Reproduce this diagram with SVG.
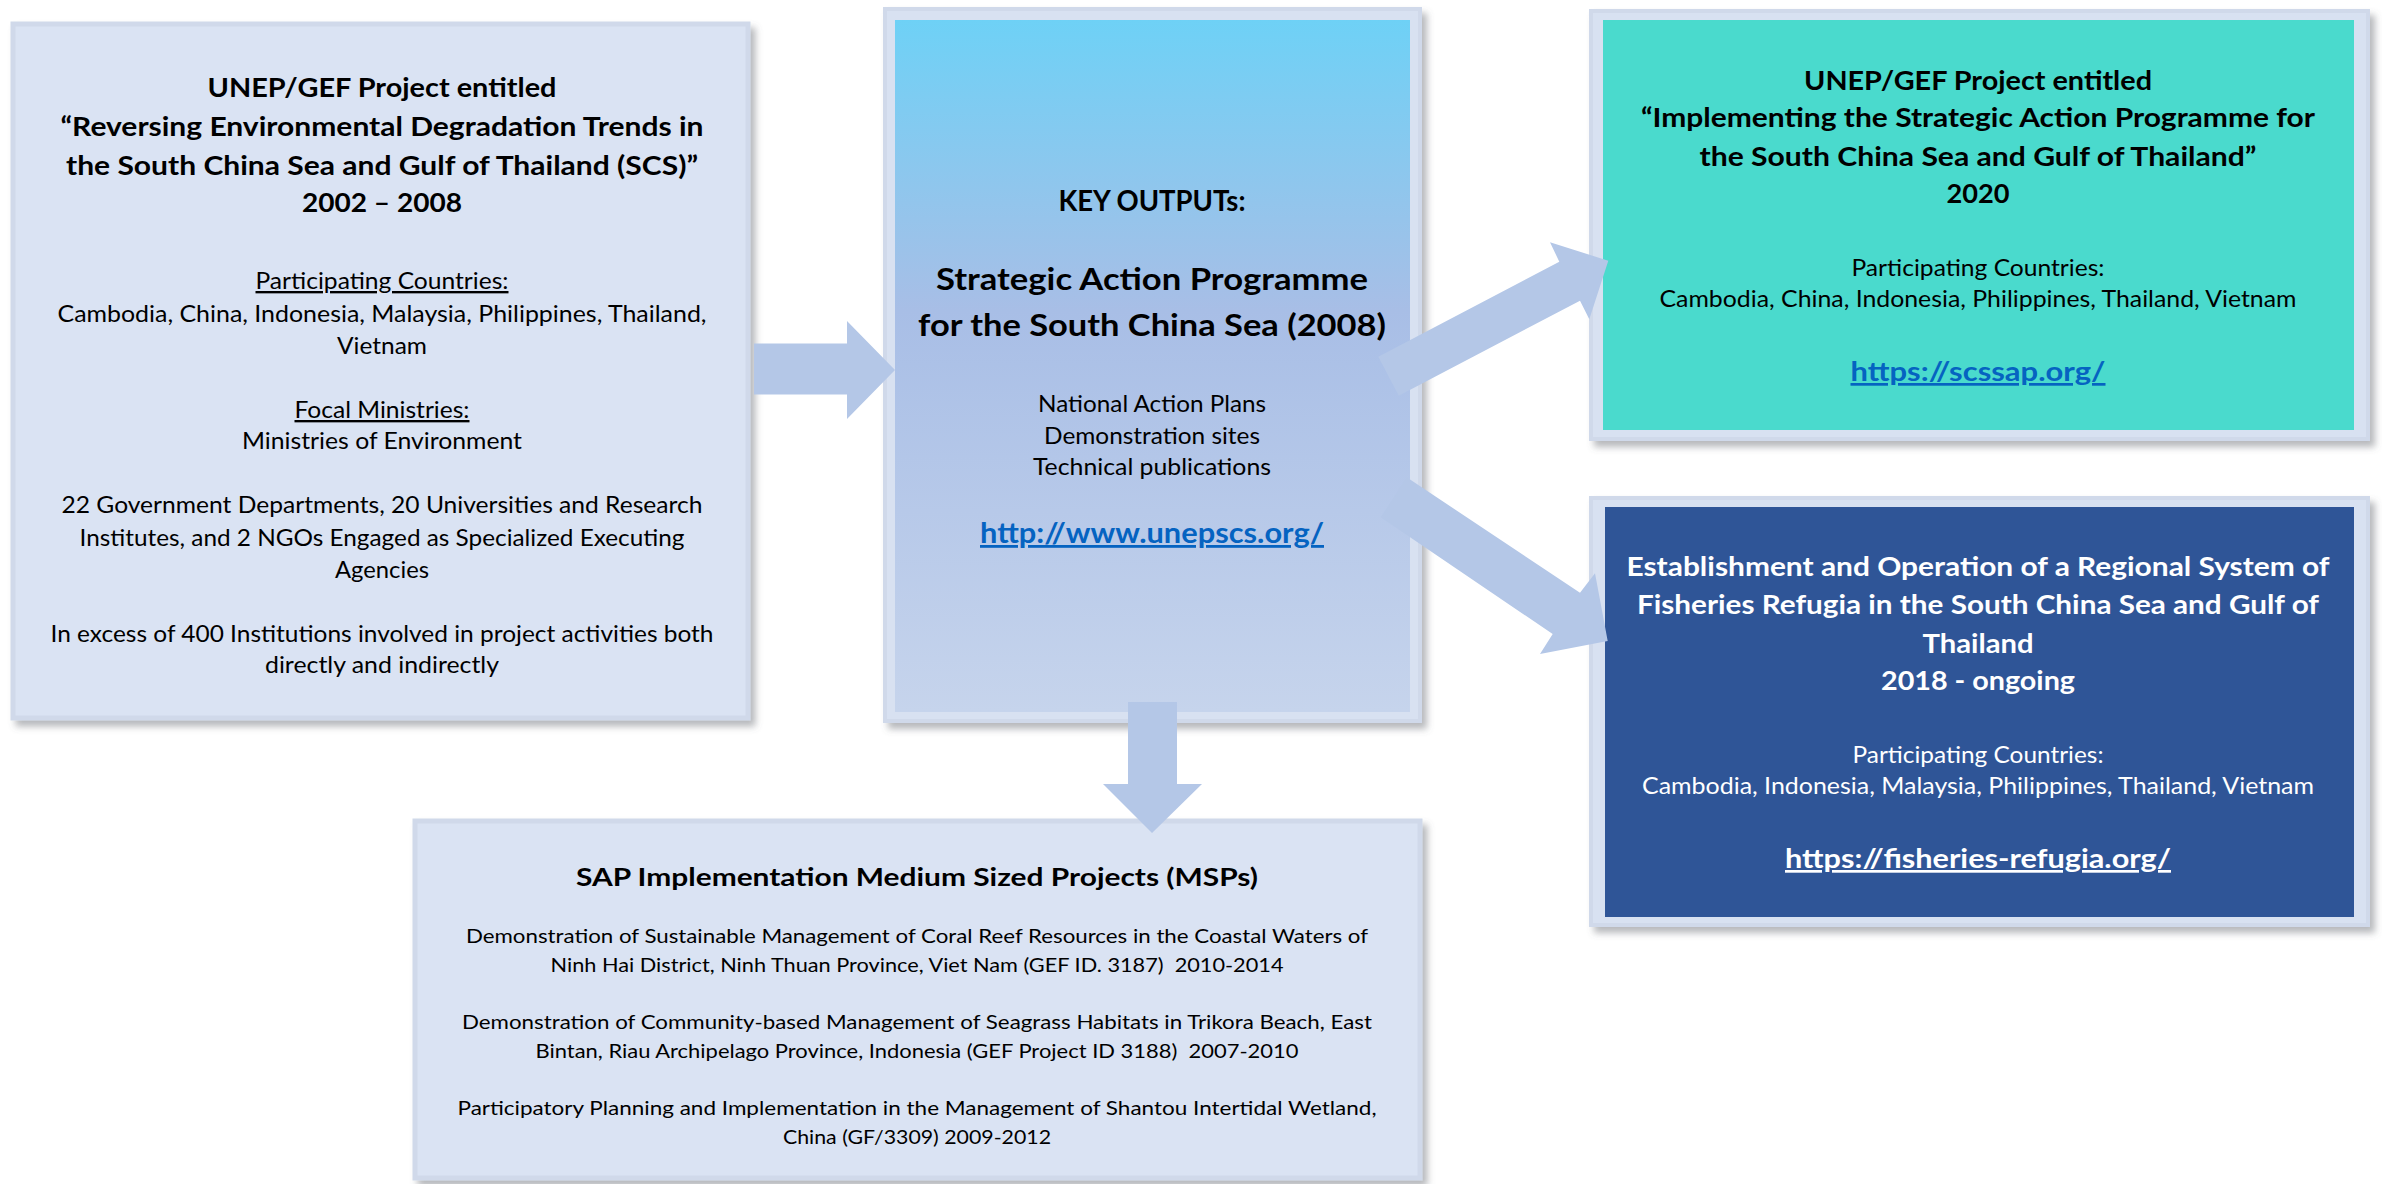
<svg xmlns="http://www.w3.org/2000/svg" width="2382" height="1184" viewBox="0 0 2382 1184">
<style>
text{font-family:Lato,"Liberation Sans",sans-serif;text-anchor:middle;fill:#000;white-space:pre}
.b{font-weight:700}
.tl{font-size:27.5px}
.r{font-size:23.5px}
.s{font-size:20px}
.w{fill:#fff}
.u{text-decoration:underline}
.lk{fill:#0563C1}
.frame{fill:#D8E1F1;stroke:#D0D9EA;stroke-width:4}
.arr{fill:#B4C7E7}
</style>
<defs>
<filter id="sh" x="-5%" y="-5%" width="112%" height="115%">
<feGaussianBlur in="SourceAlpha" stdDeviation="3.5" result="b"/>
<feOffset in="b" dx="5" dy="6" result="o"/>
<feFlood flood-color="#5f636b" flood-opacity="0.45"/>
<feComposite in2="o" operator="in" result="s"/>
<feMerge><feMergeNode in="s"/><feMergeNode in="SourceGraphic"/></feMerge>
</filter>
<linearGradient id="cg" x1="0" y1="0" x2="0" y2="1">
<stop offset="0" stop-color="#6ED1F6"/>
<stop offset="0.42" stop-color="#A8BEE6"/>
<stop offset="1" stop-color="#C6D4EC"/>
</linearGradient>
</defs>

<g id="node-scs-project">
<rect x="13" y="24" width="735" height="694" fill="#DAE3F3" stroke="#D0D9EA" stroke-width="5" filter="url(#sh)"/>
<text class="b tl" x="382" y="97" textLength="349" lengthAdjust="spacingAndGlyphs">UNEP/GEF Project entitled</text>
<text class="b tl" x="382" y="136" textLength="643" lengthAdjust="spacingAndGlyphs">“Reversing Environmental Degradation Trends in</text>
<text class="b tl" x="382" y="174.5" textLength="632" lengthAdjust="spacingAndGlyphs">the South China Sea and Gulf of Thailand (SCS)”</text>
<text class="b tl" x="382" y="212" textLength="160" lengthAdjust="spacingAndGlyphs">2002 – 2008</text>
<text class="r u" x="382" y="289" textLength="253" lengthAdjust="spacingAndGlyphs">Participating Countries:</text>
<text class="r" x="382" y="322" textLength="649" lengthAdjust="spacingAndGlyphs">Cambodia, China, Indonesia, Malaysia, Philippines, Thailand,</text>
<text class="r" x="382" y="354" textLength="90" lengthAdjust="spacingAndGlyphs">Vietnam</text>
<text class="r u" x="382" y="418" textLength="175" lengthAdjust="spacingAndGlyphs">Focal Ministries:</text>
<text class="r" x="382" y="449" textLength="280" lengthAdjust="spacingAndGlyphs">Ministries of Environment</text>
<text class="r" x="382" y="513" textLength="641" lengthAdjust="spacingAndGlyphs">22 Government Departments, 20 Universities and Research</text>
<text class="r" x="382" y="546" textLength="605" lengthAdjust="spacingAndGlyphs">Institutes, and 2 NGOs Engaged as Specialized Executing</text>
<text class="r" x="382" y="578" textLength="94" lengthAdjust="spacingAndGlyphs">Agencies</text>
<text class="r" x="382" y="642" textLength="663" lengthAdjust="spacingAndGlyphs">In excess of 400 Institutions involved in project activities both</text>
<text class="r" x="382" y="673" textLength="234" lengthAdjust="spacingAndGlyphs">directly and indirectly</text>
</g>

<g id="node-key-outputs">
<rect class="frame" x="885" y="9" width="535" height="712" filter="url(#sh)"/>
<rect x="895" y="20" width="515" height="692" fill="url(#cg)"/>
<text class="b" style="font-size:28px" x="1152" y="211" textLength="187" lengthAdjust="spacingAndGlyphs">KEY OUTPUTs:</text>
<text class="b" style="font-size:31px" x="1152" y="290" textLength="432" lengthAdjust="spacingAndGlyphs">Strategic Action Programme</text>
<text class="b" style="font-size:31px" x="1152" y="336" textLength="468" lengthAdjust="spacingAndGlyphs">for the South China Sea (2008)</text>
<text class="r" x="1152" y="411.5" textLength="228" lengthAdjust="spacingAndGlyphs">National Action Plans</text>
<text class="r" x="1152" y="443.5" textLength="216" lengthAdjust="spacingAndGlyphs">Demonstration sites</text>
<text class="r" x="1152" y="475" textLength="238" lengthAdjust="spacingAndGlyphs">Technical publications</text>
<text class="b u lk" style="font-size:28px" x="1152" y="543" textLength="344" lengthAdjust="spacingAndGlyphs">http://www.unepscs.org/</text>
</g>

<g id="node-sap-implementation">
<rect class="frame" x="1591" y="11" width="777" height="428" filter="url(#sh)"/>
<rect x="1603" y="20" width="751" height="410" fill="#4ADACD"/>
<text class="b" style="font-size:27px" x="1978" y="89.5" textLength="348" lengthAdjust="spacingAndGlyphs">UNEP/GEF Project entitled</text>
<text class="b" style="font-size:27px" x="1978" y="127" textLength="674" lengthAdjust="spacingAndGlyphs">“Implementing the Strategic Action Programme for</text>
<text class="b" style="font-size:27px" x="1978" y="165.5" textLength="557" lengthAdjust="spacingAndGlyphs">the South China Sea and Gulf of Thailand”</text>
<text class="b" style="font-size:27px" x="1978" y="203" textLength="63" lengthAdjust="spacingAndGlyphs">2020</text>
<text class="r" x="1978" y="276" textLength="253" lengthAdjust="spacingAndGlyphs">Participating Countries:</text>
<text class="r" x="1978" y="307" textLength="637" lengthAdjust="spacingAndGlyphs">Cambodia, China, Indonesia, Philippines, Thailand, Vietnam</text>
<text class="b u lk" style="font-size:27px" x="1978" y="381" textLength="255" lengthAdjust="spacingAndGlyphs">https://scssap.org/</text>
</g>

<g id="node-fisheries-refugia">
<rect class="frame" x="1591" y="498" width="777" height="427" filter="url(#sh)"/>
<rect x="1605" y="507" width="749" height="410" fill="#2F5597"/>
<text class="b w" style="font-size:27px" x="1978" y="576" textLength="703" lengthAdjust="spacingAndGlyphs">Establishment and Operation of a Regional System of</text>
<text class="b w" style="font-size:27px" x="1978" y="614" textLength="682" lengthAdjust="spacingAndGlyphs">Fisheries Refugia in the South China Sea and Gulf of</text>
<text class="b w" style="font-size:27px" x="1978" y="652.5" textLength="111" lengthAdjust="spacingAndGlyphs">Thailand</text>
<text class="b w" style="font-size:27px" x="1978" y="690" textLength="194" lengthAdjust="spacingAndGlyphs">2018 - ongoing</text>
<text class="r w" x="1978" y="762.5" textLength="251" lengthAdjust="spacingAndGlyphs">Participating Countries:</text>
<text class="r w" x="1978" y="794" textLength="672" lengthAdjust="spacingAndGlyphs">Cambodia, Indonesia, Malaysia, Philippines, Thailand, Vietnam</text>
<text class="b u w" style="font-size:27px" x="1978" y="868" textLength="386" lengthAdjust="spacingAndGlyphs">https://fisheries-refugia.org/</text>
</g>

<g id="node-msps">
<rect x="415" y="821" width="1005" height="357" fill="#DAE3F3" stroke="#D0D9EA" stroke-width="5" filter="url(#sh)"/>
<text class="b" style="font-size:24.5px" x="917" y="886" textLength="682" lengthAdjust="spacingAndGlyphs">SAP Implementation Medium Sized Projects (MSPs)</text>
<text class="s" x="917" y="942.5" textLength="902" lengthAdjust="spacingAndGlyphs">Demonstration of Sustainable Management of Coral Reef Resources in the Coastal Waters of</text>
<text class="s" x="917" y="971.5" textLength="733" lengthAdjust="spacingAndGlyphs">Ninh Hai District, Ninh Thuan Province, Viet Nam (GEF ID. 3187)  2010-2014</text>
<text class="s" x="917" y="1029" textLength="910" lengthAdjust="spacingAndGlyphs">Demonstration of Community-based Management of Seagrass Habitats in Trikora Beach, East</text>
<text class="s" x="917" y="1057.5" textLength="763" lengthAdjust="spacingAndGlyphs">Bintan, Riau Archipelago Province, Indonesia (GEF Project ID 3188)  2007-2010</text>
<text class="s" x="917" y="1115" textLength="919" lengthAdjust="spacingAndGlyphs">Participatory Planning and Implementation in the Management of Shantou Intertidal Wetland,</text>
<text class="s" x="917" y="1144" textLength="268" lengthAdjust="spacingAndGlyphs">China (GF/3309) 2009-2012</text>
</g>

<g id="connectors">
<polygon class="arr" points="754,343.5 847,343.5 847,321 895,370 847,419 847,394.5 754,394.5"/>
<polygon class="arr" points="1378.3,356.7 1559.3,261.7 1550,242.3 1608.3,260.7 1589.3,319.3 1580,300.7 1398.8,395.7"/>
<polygon class="arr" points="1406.7,477.3 1580,592.7 1595,573.3 1607.7,641 1540,654 1552.7,634 1380.7,517.3"/>
<polygon class="arr" points="1128,702 1177,702 1177,784 1202,784 1152,833 1103,784 1128,784"/>
</g>
</svg>
